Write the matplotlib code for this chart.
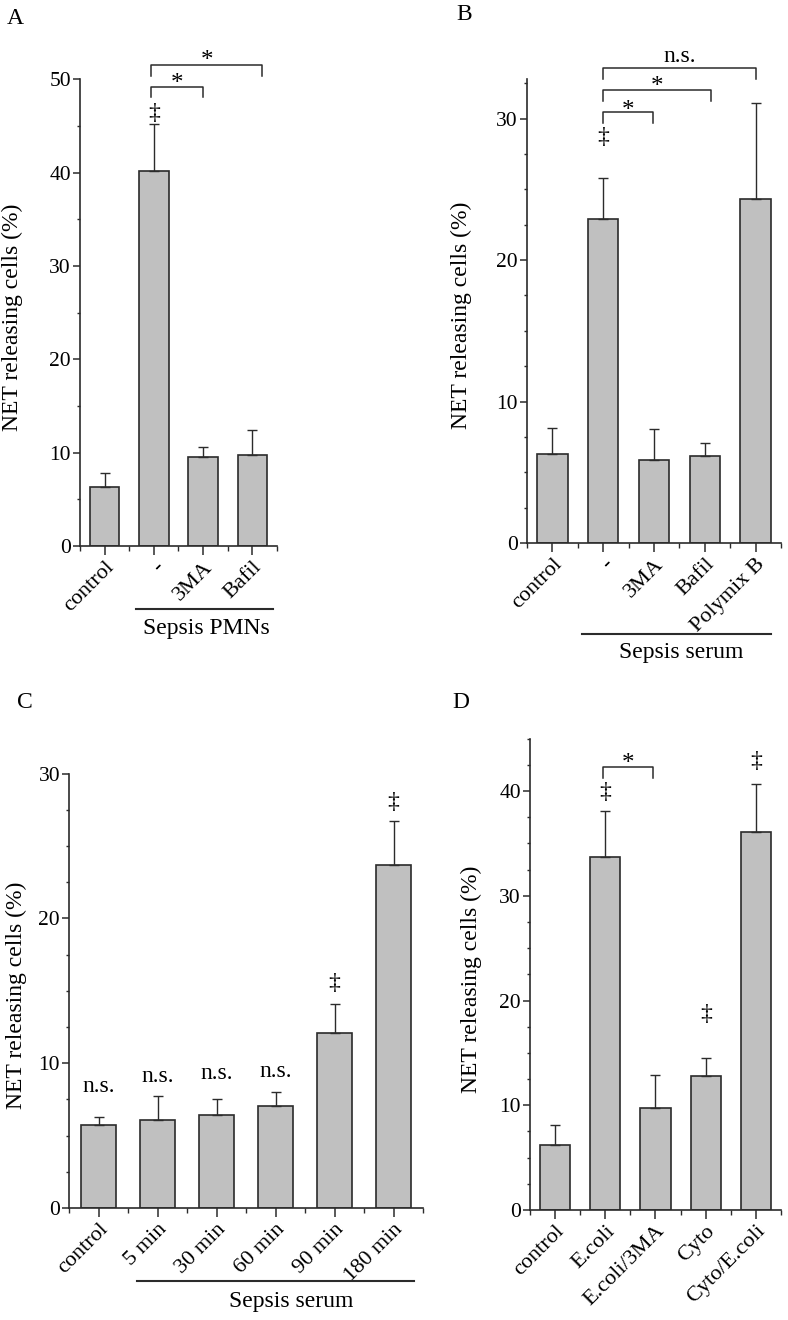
import numpy as np
import matplotlib
matplotlib.use('Agg')
import matplotlib.pyplot as plt
from matplotlib.ticker import MultipleLocator, FixedLocator

plt.rcParams['font.family'] = ['Liberation Serif', 'DejaVu Serif']

# ---- data ----
# panel A: sepsis PMNs
a_labels = ['control', '-', '3MA', 'Bafil']
a_mean = [6.3, 40.2, 9.55, 9.7]
a_err = [1.55, 5.0, 1.05, 2.75]

# panel B: sepsis serum + inhibitors
b_labels = ['control', '-', '3MA', 'Bafil', 'Polymix B']
b_mean = [6.26, 22.9, 5.84, 6.18, 24.3]
b_err = [1.9, 2.9, 2.2, 0.9, 6.8]

# panel C: time course
c_labels = ['control', '5 min', '30 min', '60 min', '90 min', '180 min']
c_mean = [5.74, 6.06, 6.41, 7.04, 12.06, 23.7]
c_err = [0.55, 1.7, 1.1, 1.0, 2.0, 3.0]

# panel D: E.coli / cytochalasin
d_labels = ['control', 'E.coli', 'E.coli/3MA', 'Cyto', 'Cyto/E.coli']
d_mean = [6.24, 33.75, 9.75, 12.77, 36.05]
d_err = [1.9, 4.3, 3.15, 1.75, 4.65]

# significance marks: (x, y, text)
a_marks = [(1, 46.4, '\u2021')]
b_marks = [(1, 28.7, '\u2021')]
c_marks = [(0, 8.4, 'n.s.'), (1, 9.1, 'n.s.'), (2, 9.3, 'n.s.'), (3, 9.4, 'n.s.'),
           (4, 15.5, '\u2021'), (5, 28.0, '\u2021')]
d_marks = [(1, 39.9, '\u2021'), (3, 18.7, '\u2021'), (4, 42.8, '\u2021')]

# brackets: (x1, x2, y, y_end, text, text_y)
a_brackets = [(0.95, 2.0, 49.2, 48.1, '*', 50.2), (0.95, 3.2, 51.6, 50.4, '*', 52.6)]
b_brackets = [(1.0, 1.98, 30.5, 29.7, '*', 31.0), (1.0, 3.12, 32.0, 31.25, '*', 32.7),
              (1.0, 4.0, 33.6, 32.8, 'n.s.', 34.4)]
d_brackets = [(0.95, 1.95, 42.3, 41.2, '*', 43.2)]

DARK = '#2b2b2b'
BAR = '#c0c0c0'

fig = plt.figure(figsize=(7.88, 13.2), dpi=100)


def draw_panel(rect, labels, means, errs, ymax, ystep, yminor, marks, brackets,
               label_x, group=None):
    ax = fig.add_axes(rect)
    x = np.arange(len(labels))
    ax.bar(x, means, width=0.6, color=BAR, edgecolor=DARK, linewidth=1.2, zorder=2)
    ax.errorbar(x, means, yerr=[np.zeros(len(errs)), errs], fmt='none',
                ecolor=DARK, elinewidth=1.0, capsize=3.5, capthick=1.0, zorder=3)
    ax.set_xlim(-0.5, len(labels) - 0.5)
    ax.set_ylim(0, ymax)
    for s in ['top', 'right']:
        ax.spines[s].set_visible(False)
    for s in ['left', 'bottom']:
        ax.spines[s].set_color(DARK)
        ax.spines[s].set_linewidth(1.2)
    ax.yaxis.set_major_locator(MultipleLocator(ystep))
    ax.yaxis.set_minor_locator(MultipleLocator(yminor))
    ax.xaxis.set_major_locator(FixedLocator(x))
    ax.xaxis.set_minor_locator(FixedLocator(np.arange(len(labels) + 1) - 0.5))
    ax.tick_params(axis='y', which='major', direction='out', length=5, width=1.1,
                   color=DARK, labelsize=15.5, pad=1.5)
    ax.tick_params(axis='y', which='minor', direction='out', length=2.5, width=1.0, color=DARK)
    ax.tick_params(axis='x', which='major', direction='out', length=6.5, width=1.1,
                   color=DARK, pad=2)
    ax.tick_params(axis='x', which='minor', direction='out', length=3.5, width=1.0, color=DARK)
    ax.set_xticklabels(labels, rotation=45, ha='right', va='top',
                       rotation_mode='anchor', fontsize=16)
    ax.set_ylabel('NET releasing cells (%)', fontsize=17)
    ax.yaxis.set_label_coords(label_x, 0.49)

    for mx, my, txt in marks:
        ax.text(mx, my, txt, ha='center', va='center', fontsize=17, clip_on=False)

    for x1, x2, by, bend, txt, ty in brackets:
        ax.plot([x1, x1, x2, x2], [bend, by, by, bend], color=DARK, lw=1.1,
                clip_on=False, zorder=4)
        if txt == '*':
            ax.annotate(txt, xy=((x1 + x2) / 2, ty), xytext=(0, -4.5),
                        textcoords='offset points', ha='center', va='center',
                        fontsize=18, annotation_clip=False)
        else:
            ax.text((x1 + x2) / 2, ty, txt, ha='center', va='center', fontsize=17,
                    clip_on=False)

    if group is not None:
        gx1, gx2, gy, tx, ty, gtxt = group
        tr = ax.get_xaxis_transform()
        ax.plot([gx1, gx2], [gy, gy], color=DARK, lw=1.5, transform=tr, clip_on=False)
        ax.text(tx, ty, gtxt, transform=tr, ha='center', va='center', fontsize=17)
    return ax


draw_panel([0.1015, 0.5864, 0.25, 0.3534], a_labels, a_mean, a_err, 50, 10, 5,
           a_marks, a_brackets, -0.29,
           group=(0.63, 3.41, -0.135, 2.07, -0.178, 'Sepsis PMNs'))
draw_panel([0.6688, 0.5886, 0.3223, 0.3515], b_labels, b_mean, b_err, 32.8, 10, 2.5,
           b_marks, b_brackets, -0.215,
           group=(0.59, 4.31, -0.196, 2.53, -0.235, 'Sepsis serum'))
draw_panel([0.0876, 0.0848, 0.4492, 0.3292], c_labels, c_mean, c_err, 30, 10, 2.5,
           c_marks, [], -0.12,
           group=(0.65, 5.34, -0.168, 3.27, -0.216, 'Sepsis serum'))
draw_panel([0.6726, 0.0833, 0.3185, 0.3571], d_labels, d_mean, d_err, 45, 10, 2.5,
           d_marks, d_brackets, -0.19)

for letter, px, py in [('A', 15, 18), ('B', 464, 15), ('C', 25, 702), ('D', 461, 702)]:
    fig.text(px / 788, 1 - py / 1320, letter, ha='center', va='center', fontsize=17)

fig.savefig('out.png', dpi=100)
